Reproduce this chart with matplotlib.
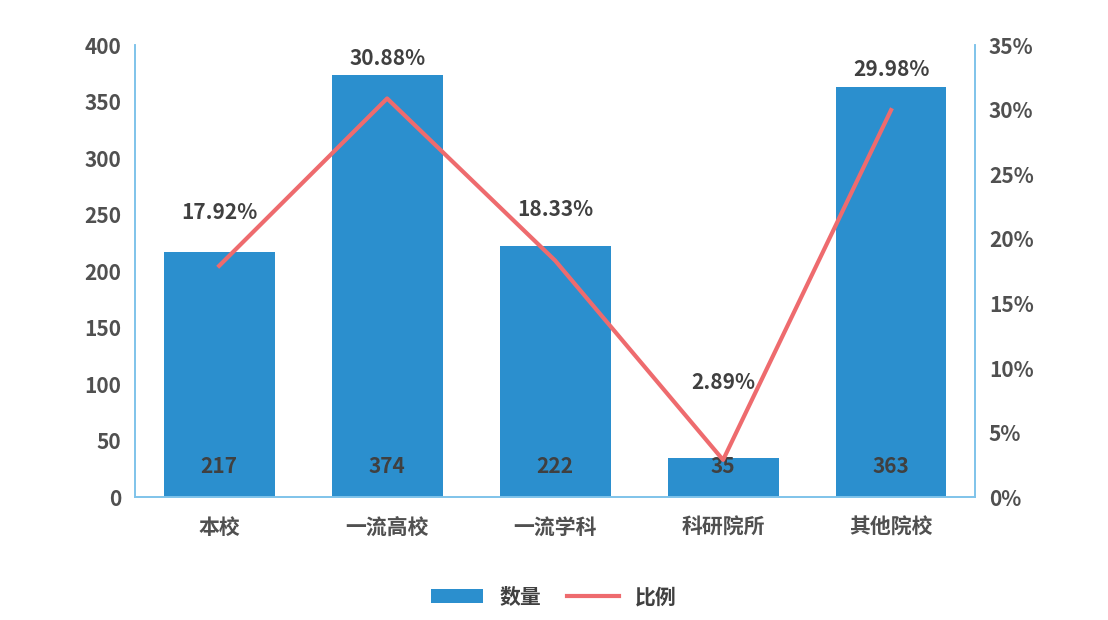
import matplotlib
matplotlib.use("Agg")
import matplotlib.pyplot as plt

plt.rcParams['font.family'] = ['Noto Sans CJK SC', 'DejaVu Sans']

categories = ["本校", "一流高校", "一流学科", "科研院所", "其他院校"]
counts = [217, 374, 222, 35, 363]
ratios = [17.92, 30.88, 18.33, 2.89, 29.98]
left_ticks = [0, 50, 100, 150, 200, 250, 300, 350, 400]
right_ticks = [0, 5, 10, 15, 20, 25, 30, 35]

bar_color = "#2B8FCE"
line_color = "#EE6B6E"
spine_color = "#7FC3EA"
text_color = "#404040"
label_offsets = [3.3, 2.3, 3.1, 5.2, 2.3]  # vertical label offsets (style)

fig = plt.figure(figsize=(11.08, 6.2), dpi=100)
ax = fig.add_axes([0.122, 0.198, 0.758, 0.729])
ax2 = ax.twinx()
x = list(range(len(categories)))
ax.bar(x, counts, width=0.66, color=bar_color, label="数量")
ax.set_ylim(0, 400)
ax.set_xlim(-0.5, 4.5)
ax.set_yticks(left_ticks)
ax.set_xticks(x)
ax.set_xticklabels(categories)
ax2.plot(x, ratios, color=line_color, lw=3, label="比例")
ax2.set_ylim(0, 35)
ax2.set_yticks(right_ticks)
ax2.set_yticklabels([f"{t}%" for t in right_ticks])

for a in (ax, ax2):
    a.spines["top"].set_visible(False)
    for s in ["left", "right", "bottom"]:
        a.spines[s].set_color(spine_color)
        a.spines[s].set_linewidth(1.2)
    a.tick_params(length=0, labelsize=15, labelcolor="#505050", pad=10)
    for lab in a.get_yticklabels() + a.get_xticklabels():
        lab.set_fontweight("bold")
ax.tick_params(axis='x', pad=14)

for xi, c in zip(x, counts):
    ax.text(xi, 27, str(c), ha="center", va="center", fontsize=15, fontweight="bold", color=text_color)
for xi, r, off in zip(x, ratios, label_offsets):
    ax2.text(xi, r + off, f"{r:.2f}%", ha="center", va="bottom", fontsize=15, fontweight="bold", color=text_color)
h1, l1 = ax.get_legend_handles_labels()
h2, l2 = ax2.get_legend_handles_labels()
fig.legend(h1 + h2, l1 + l2, loc="lower center", bbox_to_anchor=(0.5, -0.01), ncol=2, frameon=False,
           prop={'size': 15, 'weight': 'bold'}, handlelength=2.5, columnspacing=1.2)
for t in fig.legends[0].get_texts():
    t.set_color(text_color)
fig.savefig("out.png", dpi=100)
